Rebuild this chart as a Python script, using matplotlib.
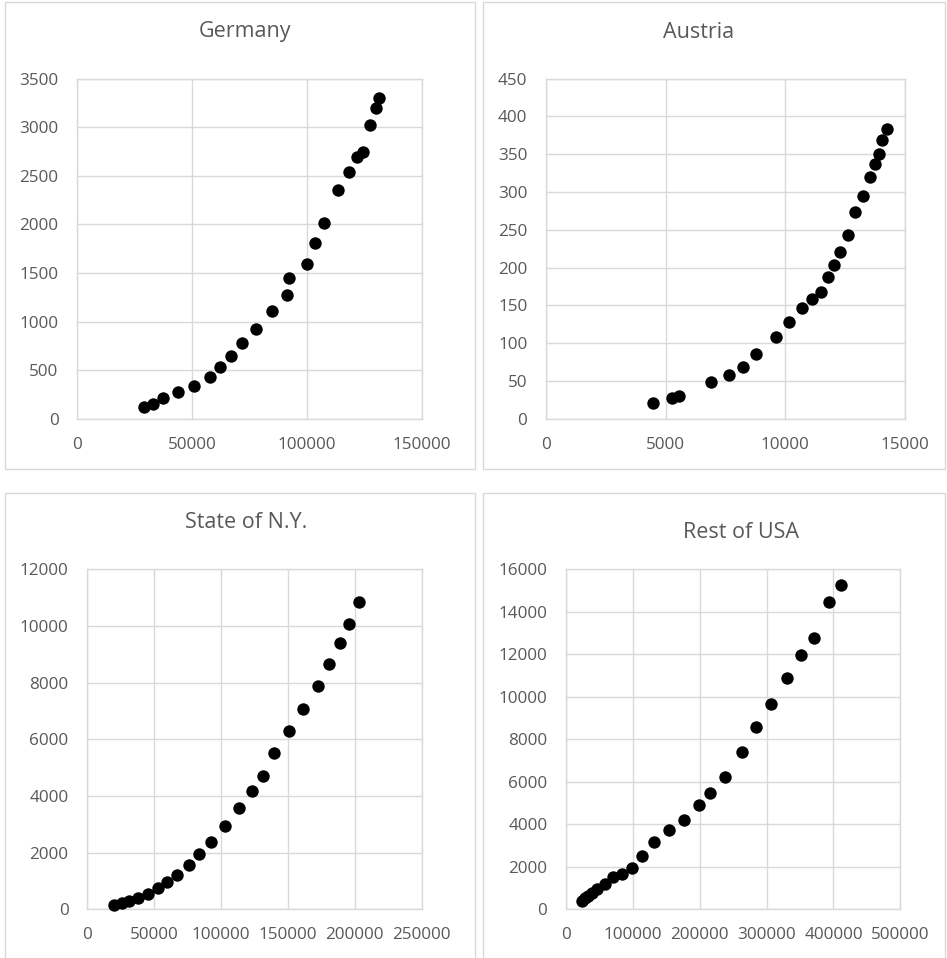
import matplotlib
matplotlib.use("Agg")
import matplotlib.pyplot as plt
from matplotlib.patches import Rectangle

plt.rcParams['font.family'] = ['Open Sans', 'DejaVu Sans']

# ---------------- data ----------------
germany_x = [28900, 33000, 37300, 44000, 50800, 57600, 62100, 66900, 71900, 77800,
             84900, 91200, 92100, 100000, 103400, 107600, 113400, 118300, 121700,
             124600, 127700, 130000, 131400]
germany_y = [120, 150, 210, 270, 340, 432, 535, 645, 775, 919,
             1108, 1276, 1444, 1589, 1811, 2017, 2354, 2541, 2695,
             2745, 3023, 3200, 3298]

austria_x = [4460, 5250, 5570, 6880, 7630, 8250, 8780, 9600, 10150, 10700, 11120,
             11500, 11770, 12050, 12290, 12620, 12930, 13230, 13540, 13760, 13930,
             14030, 14230]
austria_y = [21, 28, 30, 49, 58, 68, 86, 108, 128, 146, 158,
             168, 187, 204, 220, 243, 273, 295, 320, 337, 351,
             369, 384]

ny_x = [20200, 26200, 30900, 38100, 45100, 52600, 59800, 66800, 76000, 83800,
        92500, 102900, 113700, 123400, 131600, 139600, 151100, 161500, 172500,
        181000, 188900, 195400, 202900]
ny_y = [150, 235, 306, 412, 529, 741, 976, 1212, 1565, 1953,
        2388, 2941, 3565, 4165, 4706, 5506, 6294, 7082, 7882,
        8647, 9400, 10071, 10859]

usa_x = [23500, 28000, 33000, 39000, 47000, 59000, 71000, 84000, 98000, 114000,
         132100, 154000, 176000, 199400, 215400, 238300, 263700, 284200, 307100,
         330500, 351400, 370900, 393300, 410800]
usa_y = [380, 510, 630, 790, 940, 1180, 1520, 1640, 1940, 2520,
         3184, 3733, 4220, 4925, 5490, 6227, 7388, 8565, 9663,
         10902, 11984, 12753, 14478, 15247]

titles = ["Germany", "Austria", "State of N.Y.", "Rest of USA"]
x_ticks = [[0, 50000, 100000, 150000],
           [0, 5000, 10000, 15000],
           [0, 50000, 100000, 150000, 200000, 250000],
           [0, 100000, 200000, 300000, 400000, 500000]]
y_ticks = [list(range(0, 3501, 500)),
           list(range(0, 451, 50)),
           list(range(0, 12001, 2000)),
           list(range(0, 16001, 2000))]
series = [(germany_x, germany_y), (austria_x, austria_y), (ny_x, ny_y), (usa_x, usa_y)]

# ---------------- layout (pixels) ----------------
W, H = 947, 958
fig = plt.figure(figsize=(W / 100, H / 100), dpi=100)
fig.patch.set_facecolor('white')

GRID = '#d9d9d9'
TEXT = '#595959'

panels = [(5, 2, 475, 469), (483, 2, 945, 469), (5, 493, 475, 1000), (483, 493, 945, 1000)]
for (x0, y0, x1, y1) in panels:
    fig.add_artist(Rectangle((x0 / W, 1 - y1 / H), (x1 - x0) / W, (y1 - y0) / H,
                             transform=fig.transFigure, facecolor='white',
                             edgecolor=GRID, linewidth=1.0, zorder=0))

# plot areas: left, top, right, bottom in pixels
areas = [(77.3, 78.7, 421.7, 418.7),
         (546.0, 78.7, 905.0, 418.7),
         (87.3, 569.3, 421.7, 909.3),
         (566.0, 569.3, 900.3, 909.3)]
title_pos = [(245, 32), (699, 32), (246, 523), (741, 533)]

for i in range(4):
    l, t, r, b = areas[i]
    ax = fig.add_axes([l / W, 1 - b / H, (r - l) / W, (b - t) / H])
    xs, ys = series[i]
    ax.scatter(xs, ys, s=80, color='black', zorder=3, clip_on=False, linewidths=0)
    ax.set_xlim(x_ticks[i][0], x_ticks[i][-1])
    ax.set_ylim(y_ticks[i][0], y_ticks[i][-1])
    ax.set_xticks(x_ticks[i])
    ax.set_yticks(y_ticks[i])
    ax.set_xticklabels([str(v) for v in x_ticks[i]])
    ax.set_yticklabels([str(v) for v in y_ticks[i]])
    ax.grid(True, color=GRID, linewidth=1.0)
    ax.set_axisbelow(True)
    for sp in ax.spines.values():
        sp.set_color(GRID)
        sp.set_linewidth(1.0)
    ax.tick_params(length=0, labelsize=12.3, labelcolor=TEXT)
    ax.tick_params(axis='x', pad=13)
    ax.tick_params(axis='y', pad=13.5)
    tx, ty = title_pos[i]
    fig.text(tx / W, 1 - ty / H, titles[i], ha='center', va='center',
             fontsize=15.5, color=TEXT)

fig.savefig('out.png', dpi=100)
